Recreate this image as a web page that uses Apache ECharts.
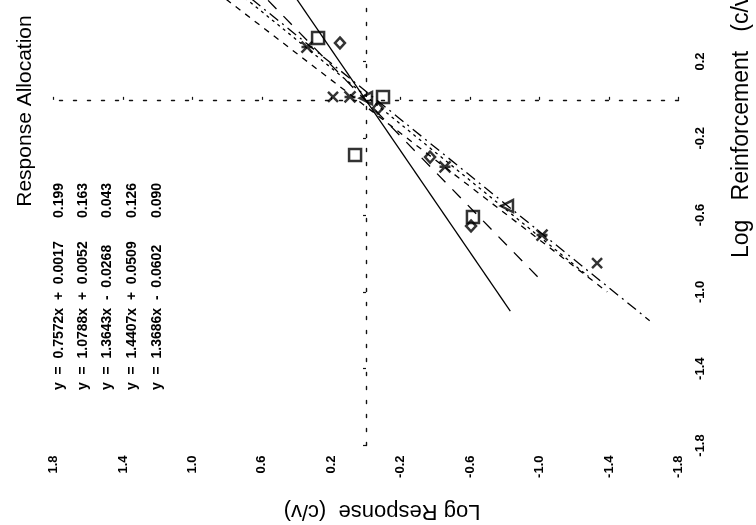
<!DOCTYPE html>
<html>
<head>
<meta charset="utf-8">
<script src="https://cdn.jsdelivr.net/npm/echarts@6/dist/echarts.min.js"></script>
<style>
  html, body { margin: 0; padding: 0; background: #fff; }
  #chart { width: 756px; height: 525px; }
</style>
</head>
<body>
<div id="chart"></div>
<script>
// Tick labels: log response (c/v) runs along the bottom, log reinforcement (c/v) along the right
const responseTicks = [1.8, 1.4, 1.0, 0.6, 0.2, -0.2, -0.6, -1.0, -1.4, -1.8];
const reinforcementTicks = [0.2, -0.2, -0.6, -1.0, -1.4, -1.8];

// Observed points per marker: log reinforcement and log response
const squareReinf = [0.322, 0.015, -0.287, -0.610];
const squareResp  = [0.276, -0.098, 0.063, -0.616];
const diamondReinf = [0.296, -0.043, -0.298, -0.657];
const diamondResp  = [0.150, -0.069, -0.369, -0.605];
const triangleReinf = [0.009, -0.553];
const triangleResp  = [0.000, -0.812];
const crossReinf = [0.015, -0.850];
const crossResp  = [0.190, -1.331];
const starReinf = [0.275, 0.015, -0.349, -0.704];
const starResp  = [0.340, 0.092, -0.455, -1.014];

// Fitted lines: response = slope * reinforcement + intercept
const slopes     = [0.7572, 1.0788, 1.3643, 1.4407, 1.3686];
const intercepts = [0.0017, 0.0052, -0.0268, 0.0509, -0.0602];
const fitFrom    = [0.6, 0.6, 0.6, 0.6, 0.6];
const fitTo      = [-1.10, -0.95, -0.92, -1.00, -1.15];
const fitErrors  = ['0.199', '0.163', '0.043', '0.126', '0.090'];
const fitDashes  = ['solid', [12, 10], [3, 4], [6, 6], [11, 5, 2, 5]];

const FONT = '"Liberation Sans", Arial, Helvetica, sans-serif';
const fmt = v => (Math.abs(v) < 1e-9 ? 0 : v).toFixed(1);

function pairs(resp, reinf) {
  return resp.map((r, i) => [r, reinf[i]]);
}

const X_PATH = 'path://M0,0L10,10M10,0L0,10';
const STAR_PATH = 'path://M0,0L10,10M10,0L0,10M0,5L10,5';

function markerSeries(name, resp, reinf, symbol, size, rotate) {
  return {
    name: name,
    type: 'scatter',
    data: pairs(resp, reinf),
    symbol: symbol,
    symbolSize: size,
    symbolRotate: rotate || 0,
    z: 5,
    itemStyle: { color: 'rgba(0,0,0,0)', borderColor: '#000', borderWidth: 2.5 },
    emphasis: { disabled: true },
    silent: true
  };
}

const lineSeries = slopes.map((m, i) => ({
  name: 'fit' + i,
  type: 'line',
  data: [
    [m * fitFrom[i] + intercepts[i], fitFrom[i]],
    [m * fitTo[i] + intercepts[i], fitTo[i]]
  ],
  symbol: 'none',
  silent: true,
  z: 3,
  lineStyle: { color: '#000', width: 1.3, type: fitDashes[i] }
}));

function equationText(i) {
  const b = intercepts[i];
  return 'y  =  ' + slopes[i].toFixed(4) + 'x  ' + (b < 0 ? '-' : '+') + '  ' + Math.abs(b).toFixed(4);
}

const colX = [59, 83, 107, 132, 157];
const graphics = [
  {
    type: 'text', x: 25, y: 111, rotation: Math.PI / 2,
    style: { text: 'Response Allocation', font: '21px ' + FONT, fill: '#000', align: 'center', verticalAlign: 'middle' }
  },
  {
    type: 'text', x: 382, y: 511, rotation: Math.PI,
    style: { text: 'Log Response  (c/v)', font: '22px ' + FONT, fill: '#000', align: 'center', verticalAlign: 'middle' }
  },
  {
    type: 'text', x: 742, y: 258, rotation: Math.PI / 2,
    style: { text: 'Log   Reinforcement   (c/v)', font: '23px ' + FONT, fill: '#000', align: 'left', verticalAlign: 'middle' }
  }
];
slopes.forEach((m, i) => {
  graphics.push({
    type: 'text', x: colX[i], y: 390, rotation: Math.PI / 2,
    style: { text: equationText(i), font: 'bold 14px ' + FONT, fill: '#000', align: 'left', verticalAlign: 'middle' }
  });
  graphics.push({
    type: 'text', x: colX[i], y: 218, rotation: Math.PI / 2,
    style: { text: fitErrors[i], font: 'bold 14px ' + FONT, fill: '#000', align: 'left', verticalAlign: 'middle' }
  });
});

const zeroLine = { show: true, onZero: true, onZeroAxisIndex: 0, lineStyle: { color: '#111', width: 1.4, type: [3, 11] } };

const option = {
  backgroundColor: '#fff',
  animation: false,
  grid: { left: 53.5, right: 77.5, top: 0, bottom: 79.5, containLabel: false },
  xAxis: [
    {
      type: 'value', inverse: true, min: -1.8, max: 1.8, position: 'bottom',
      axisLine: { show: false, onZero: false },
      axisTick: { show: false },
      splitLine: { show: false },
      axisLabel: {
        customValues: responseTicks, rotate: 90, margin: 10, formatter: fmt,
        fontSize: 13, fontWeight: 'bold', fontFamily: FONT, color: '#000'
      }
    },
    {
      type: 'value', inverse: true, min: -1.8, max: 1.8,
      axisLine: zeroLine,
      axisTick: { show: true, customValues: responseTicks, length: 3, lineStyle: { color: '#111', width: 1.2 } },
      splitLine: { show: false },
      axisLabel: { show: false }
    }
  ],
  yAxis: [
    {
      type: 'value', min: -1.8, max: 0.52, position: 'right',
      axisLine: { show: false, onZero: false },
      axisTick: { show: false },
      splitLine: { show: false },
      axisLabel: {
        customValues: reinforcementTicks, rotate: 90, margin: 15, formatter: fmt,
        fontSize: 13, fontWeight: 'bold', fontFamily: FONT, color: '#000'
      }
    },
    {
      type: 'value', min: -1.8, max: 0.52,
      axisLine: zeroLine,
      axisTick: { show: true, customValues: reinforcementTicks, length: 3, lineStyle: { color: '#111', width: 1.2 } },
      splitLine: { show: false },
      axisLabel: { show: false }
    }
  ],
  series: lineSeries.concat([
    markerSeries('square', squareResp, squareReinf, 'rect', 12),
    markerSeries('diamond', diamondResp, diamondReinf, 'diamond', [10, 11]),
    markerSeries('triangle', triangleResp, triangleReinf, 'triangle', 12, 90),
    markerSeries('cross', crossResp, crossReinf, X_PATH, 10),
    markerSeries('star', starResp, starReinf, STAR_PATH, 11)
  ]),
  graphic: graphics
};

const chart = echarts.init(document.getElementById('chart'), null, { renderer: 'canvas' });
chart.setOption(option);
</script>
</body>
</html>
